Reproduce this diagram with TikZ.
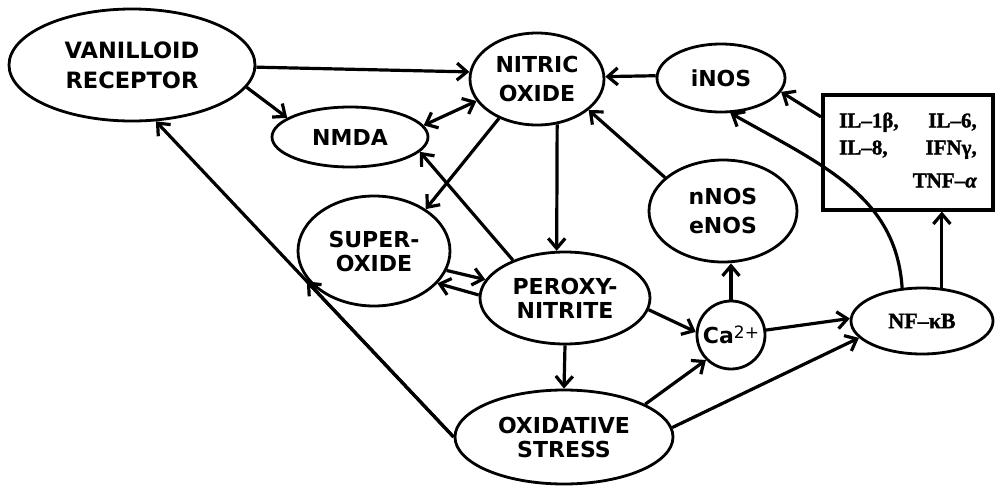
\documentclass[tikz,border=0pt]{standalone}
\usepackage{fontspec}
\newfontfamily\labelfont{DejaVu Sans}
\newfontfamily\seriffont{Liberation Serif}[FakeBold=1.5]
\usetikzlibrary{shapes.geometric,arrows.meta,calc}

\begin{document}
\begin{tikzpicture}[x=1pt,y=-1pt,
  bubble/.style={ellipse,draw,line width=2.8pt,inner sep=0pt,align=center,
    font=\labelfont\bfseries\fontsize{22}{24}\selectfont},
  widegap/.style={font=\labelfont\bfseries\fontsize{22}{29}\selectfont},
  barb/.tip={Straight Barb[length=10pt,width=17pt,line width=3.2pt]},
  link/.style={line width=3.2pt,-barb},
  twoway/.style={line width=3.2pt,barb-barb},
  cytokines/.style={draw,line width=4pt,inner sep=0pt,
    minimum width=170pt,minimum height=115pt,
    font=\seriffont\bfseries\fontsize{21}{27}\selectfont}
]
\useasboundingbox (0,0) rectangle (997,488);

% receptors, mediators and enzymes
\node[bubble,widegap,minimum width=246pt,minimum height=112pt,
  font=\labelfont\bfseries\fontsize{22.5}{30}\selectfont] (VR) at (132,65) {VANILLOID\\RECEPTOR};
\node[bubble,minimum width=156pt,minimum height=60pt] (NMDA) at (350,137) {NMDA};
\node[bubble,widegap,minimum width=134pt,minimum height=92pt] (NO) at (537,79) {NITRIC\\OXIDE};
\node[bubble,minimum width=128pt,minimum height=68pt] (iNOS) at (721,78) {iNOS};
\node[bubble,widegap,minimum width=148pt,minimum height=102pt] (NN) at (723,211) {nNOS\\eNOS};
\node[bubble,minimum width=152pt,minimum height=110pt] (SUP) at (374,251) {SUPER-\\OXIDE};
\node[bubble,minimum width=170pt,minimum height=92pt] (PER) at (565,298) {PEROXY-\\NITRITE};
\node[circle,draw,line width=2.8pt,inner sep=0pt,minimum size=68pt,
  font=\labelfont\bfseries\fontsize{22}{24}\selectfont] (CA) at (731,335)
  {Ca\raisebox{5pt}{\mdseries\fontsize{17}{17}\selectfont 2+}};
\node[bubble,minimum width=142pt,minimum height=66pt,
  font=\seriffont\bfseries\fontsize{22}{24}\selectfont] (NF) at (922,321) {NF–κB};
\node[bubble,minimum width=218pt,minimum height=94pt] (OX) at (564,437) {OXIDATIVE\\STRESS};
\node[cytokines] (BOX) at (908,152) {%
  \begin{tabular}{@{}l@{\hspace{14pt}}r@{}}
    IL–1β, & IL–6,\\
    IL–8,  & IFNγ,\\[6pt]
           & TNF–{\itshape α}
  \end{tabular}};

% connections
\draw[link] (VR.-1) -- (NO.174);
\draw[link] (VR.-11) -- (NMDA.163);
\draw[twoway] (NMDA.9) -- (NO.200);
\draw[link] (NO.226) -- (SUP.39);
\draw[link] (PER.144) -- (NMDA.-12);
\draw[link] (NO.-66) -- (PER.100);
\draw[link] (iNOS.178) -- (NO.2);
\draw[link] (NN.150) -- (NO.-31);
\draw[link] (SUP.-15) -- (PER.167);
\draw[link] (PER.178) -- (SUP.-27);
\draw[link] (OX.180) -- (VR.-67);
\coordinate (supTip) at ($(OX.180)!0.493!(VR.-67)$);
\draw[link] (OX.180) -- (supTip);
\draw[link] (PER.south) -- (OX.north);
\draw[link] (PER.-8) -- (CA.175);
\draw[link] (OX.22) -- (CA.-135);
\draw[link] (OX.5) -- (NF.195);
\draw[link] (CA.north) -- (CA.north |- NN.south);
\draw[link] (CA.8) -- (NF.178);
\draw[link] (NF.59) -- (NF.59 |- BOX.south);
\draw[link] (NF.121) .. controls +(-6,-92) and +(92,52) .. (iNOS.-75);
\draw[link] (BOX.158) -- (iNOS.-13);
\end{tikzpicture}
\end{document}
